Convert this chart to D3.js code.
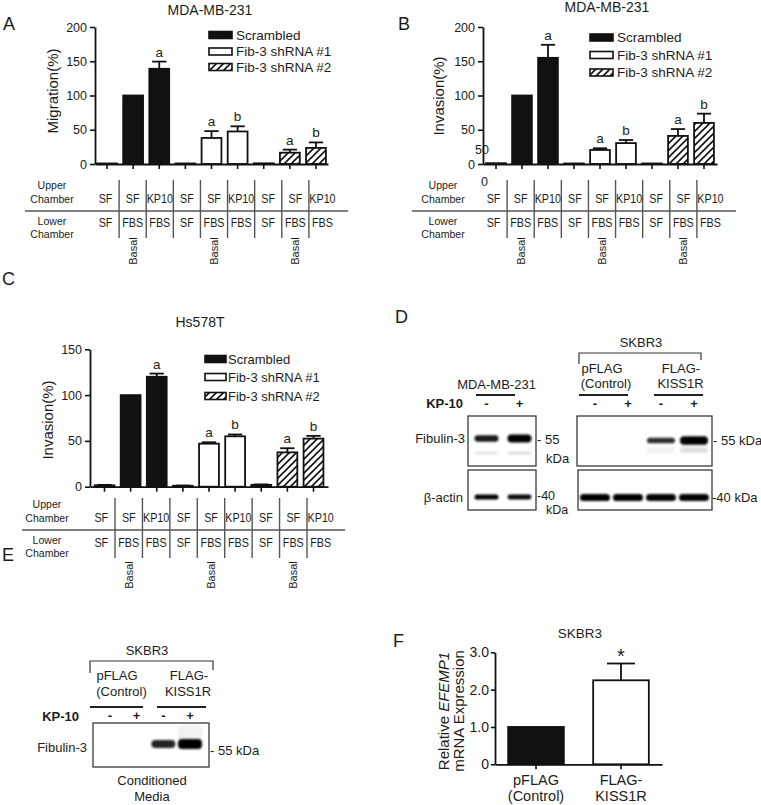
<!DOCTYPE html>
<html>
<head>
<meta charset="utf-8">
<script src="https://cdn.jsdelivr.net/npm/d3@7"></script>
<style>
  html,body{margin:0;padding:0;background:#fff;}
  svg{display:block;}
  text{font-family:"Liberation Sans",Arial,Helvetica,sans-serif;fill:#1c1c1c;}
</style>
</head>
<body>
<svg id="fig" width="761" height="805" viewBox="0 0 761 805"></svg>
<script>
// ---------------- DATA ----------------
const seriesNames = ["Scrambled", "Fib-3 shRNA #1", "Fib-3 shRNA #2"];
const seriesOfBar = [0, 0, 0, 1, 1, 1, 2, 2, 2];
const upperChamber = ["SF", "SF", "KP10", "SF", "SF", "KP10", "SF", "SF", "KP10"];
const lowerChamber = ["SF", "FBS", "FBS", "SF", "FBS", "FBS", "SF", "FBS", "FBS"];
const basalLabels = ["", "Basal", "", "", "Basal", "", "", "Basal", ""];
const yTicksMDA = [0, 50, 100, 150, 200];
const yTicksHs = [0, 50, 100, 150];

const migrationA = [0.8, 100, 139, 0.8, 38, 47.5, 1, 16.5, 23.5];
const migrationAErr = [0, 0, 10.5, 0, 10, 7.5, 0, 4.5, 8];
const sigA = ["", "", "a", "", "a", "b", "", "a", "b"];

const invasionB = [1.2, 100, 155, 0.8, 20.5, 30.5, 0.8, 41, 60];
const invasionBErr = [0, 0, 19, 0, 2.5, 4.5, 0, 10, 13.5];
const sigB = ["", "", "a", "", "a", "b", "", "a", "b"];

const invasionC = [1.5, 100, 120, 1, 47, 55, 2, 37.5, 52.5];
const invasionCErr = [0.5, 0, 3.5, 0.3, 1.5, 2, 0.5, 4.5, 3];
const sigC = ["", "", "a", "", "a", "b", "", "a", "b"];

// Western blots: relative band intensity (0 = no band)
const kp10MDA = ["-", "+"];
const kp10SKBR3 = ["-", "+", "-", "+"];
const fib3MDA = [0.75, 1.0];
const fib3MDAminor = [0.11, 0.13];
const actinMDA = [0.9, 0.85];
const fib3SKBR3 = [0, 0, 0.6, 1.0];
const fib3SKBR3minor = [0, 0, 0.05, 0.12];
const actinSKBR3 = [0.95, 0.95, 0.92, 0.92];
const fib3Media = [0, 0, 0.75, 1.0];
const fib3MediaSmear = [0, 0, 0, 0.05];

// Panel F
const fGroups = [["pFLAG", "(Control)"], ["FLAG-", "KISS1R"]];
const fValues = [1.0, 2.25];
const fErrors = [0, 0.45];
const fSig = ["", "*"];
const fTicks = [0, 1, 2, 3];

// ---------------- DRAWING ----------------
const svg = d3.select("#fig");
svg.append("rect").attr("width", 761).attr("height", 805).attr("fill", "#fff");
const defs = svg.append("defs");
const pat = defs.append("pattern").attr("id", "hatch").attr("patternUnits", "userSpaceOnUse")
  .attr("width", 7).attr("height", 7);
pat.append("rect").attr("width", 7).attr("height", 7).attr("fill", "#fff");
pat.append("path").attr("d", "M-1,8L8,-1M-2,2L2,-2M5,9L9,5").attr("stroke", "#111").attr("stroke-width", 1.6);
const blur = defs.append("filter").attr("id", "blur").attr("x", "-30%").attr("y", "-200%")
  .attr("width", "160%").attr("height", "500%");
blur.append("feGaussianBlur").attr("stdDeviation", 1.0);

const INK = "#111";
const fills = [INK, "#fff", "url(#hatch)"];

function txt(g, x, y, s, size, anchor, o = {}) {
  const t = g.append("text").attr("font-size", size).attr("text-anchor", anchor || "start").text(s);
  if (o.bold) t.attr("font-weight", "bold");
  if (o.central) t.attr("dominant-baseline", "central");
  if (o.rotate) t.attr("transform", `translate(${x},${y}) rotate(${o.rotate})`);
  else if (o.sx) t.attr("transform", `translate(${x},${y}) scale(${o.sx},1)`);
  else t.attr("x", x).attr("y", y);
  return t;
}
function ln(g, x1, y1, x2, y2, w = 1.3, c = "#444") {
  return g.append("line").attr("x1", x1).attr("y1", y1).attr("x2", x2).attr("y2", y2)
    .attr("stroke", c).attr("stroke-width", w);
}
function styleAxis(a, size) {
  a.attr("font-family", null).attr("font-size", null);
  a.select(".domain").attr("stroke", INK).attr("stroke-width", 1.8);
  a.selectAll(".tick line").attr("stroke", INK).attr("stroke-width", 1.6);
  a.selectAll(".tick text").attr("font-size", size).attr("fill", "#1c1c1c");
}

function chamberTable(g, t) {
  const n = upperChamber.length;
  const col = d3.scaleBand().domain(d3.range(n)).range(t.colRange);
  const cx = i => col(i) + col.bandwidth() / 2;
  const sx = 0.86, fs = 12.5, lfs = 11.5;
  txt(g, t.labelX, t.upLabY[0], "Upper", lfs, "middle", { central: true, sx: 0.92 });
  txt(g, t.labelX, t.upLabY[1], "Chamber", lfs, "middle", { central: true, sx: 0.92 });
  txt(g, t.labelX, t.lowLabY[0], "Lower", lfs, "middle", { central: true, sx: 0.92 });
  txt(g, t.labelX, t.lowLabY[1], "Chamber", lfs, "middle", { central: true, sx: 0.92 });
  ln(g, t.lineX[0], t.lineY, t.lineX[1], t.lineY, 1.4, "#555");
  upperChamber.forEach((s, i) => txt(g, cx(i), t.row1Y, s, fs, "middle", { central: true, sx }));
  lowerChamber.forEach((s, i) => txt(g, cx(i), t.row2Y, s, fs, "middle", { central: true, sx }));
  d3.range(1, n).forEach(i => ln(g, col(i), t.sepY[0], col(i), t.sepY[1], 1.4, "#555"));
  basalLabels.forEach((s, i) => { if (s) txt(g, cx(i), t.basalY, s, 11, "middle", { central: true, rotate: -90 }); });
}

function barPanel(c) {
  const g = svg.append("g");
  const n = c.values.length;
  const x = d3.scaleBand().domain(d3.range(n)).range(c.xRange).paddingInner(0.24).paddingOuter(c.padOuter);
  const y = d3.scaleLinear().domain(c.yDomain).range(c.yRange);
  const bw = x.bandwidth();
  g.selectAll(".bar").data(c.values).join("rect").attr("class", "bar")
    .attr("x", (d, i) => x(i)).attr("y", d => y(d)).attr("width", bw).attr("height", d => y(0) - y(d))
    .attr("fill", (d, i) => fills[seriesOfBar[i]]).attr("stroke", INK).attr("stroke-width", 1.8);
  const eg = g.append("g").attr("stroke", INK).attr("stroke-width", 1.8);
  c.values.forEach((v, i) => {
    const e = c.errors[i];
    if (!e) return;
    const cx = x(i) + bw / 2;
    eg.append("line").attr("x1", cx).attr("x2", cx).attr("y1", y(v)).attr("y2", y(v + e));
    eg.append("line").attr("x1", cx - bw * 0.36).attr("x2", cx + bw * 0.36).attr("y1", y(v + e)).attr("y2", y(v + e));
  });
  c.sig.forEach((s, i) => {
    if (s) txt(g, x(i) + bw / 2, y(c.values[i] + c.errors[i]) - 5, s, 13.5, "middle");
  });
  const ya = g.append("g").attr("transform", `translate(${c.xRange[0]},0)`)
    .call(d3.axisLeft(y).tickValues(c.yTicks).tickSize(5).tickSizeOuter(0).tickPadding(3));
  styleAxis(ya, 12.5);
  const xa = g.append("g").attr("transform", `translate(0,${y(0)})`)
    .call(d3.axisBottom(x).tickSize(5).tickSizeOuter(0).tickFormat(""));
  styleAxis(xa, 12);
  // legend
  const L = c.legend;
  seriesNames.forEach((s, k) => {
    g.append("rect").attr("x", L.boxX).attr("y", L.rows[k] - 3.5).attr("width", L.boxW).attr("height", 7)
      .attr("fill", fills[k]).attr("stroke", INK).attr("stroke-width", 1.6);
    txt(g, L.textX, L.rows[k], s, L.size, "start", { central: true });
  });
  txt(g, c.yLabelPos[0], c.yLabelPos[1], c.yLabel, 15, "middle", { central: true, rotate: -90 });
  txt(g, c.titlePos[0], c.titlePos[1], c.title, 14, "middle");
  txt(g, c.letterPos[0], c.letterPos[1], c.letter, 18, "start");
  (c.extras || []).forEach(e => txt(g, e[1], e[2], e[0], 12.5, "middle", { central: true }));
  chamberTable(g, c.table);
}

barPanel({
  values: migrationA, errors: migrationAErr, sig: sigA,
  xRange: [95, 328], padOuter: 0.08, yDomain: [0, 200], yRange: [164, 27], yTicks: yTicksMDA,
  yLabel: "Migration(%)", yLabelPos: [52, 91],
  title: "MDA-MB-231", titlePos: [210, 15], letter: "A", letterPos: [3, 30],
  legend: { boxX: 209, boxW: 23, textX: 236, rows: [35, 51.5, 67], size: 13.5 },
  table: { colRange: [92, 336], labelX: 52, upLabY: [185, 198.5], row1Y: 198.5, lineY: 211, lineX: [25, 348],
    lowLabY: [220.5, 234], row2Y: 222.5, sepY: [180, 238], basalY: 251 }
});

barPanel({
  values: invasionB, errors: invasionBErr, sig: sigB,
  xRange: [483, 717], padOuter: 0.12, yDomain: [0, 200], yRange: [164, 27], yTicks: yTicksMDA,
  yLabel: "Invasion(%)", yLabelPos: [438, 96],
  title: "MDA-MB-231", titlePos: [607, 12], letter: "B", letterPos: [398, 30],
  legend: { boxX: 590, boxW: 23, textX: 617, rows: [37.5, 55, 72.5], size: 13.5 },
  table: { colRange: [480, 724], labelX: 443, upLabY: [185, 198.5], row1Y: 198.5, lineY: 211, lineX: [412, 736],
    lowLabY: [220.5, 234], row2Y: 222.5, sepY: [180, 238], basalY: 251 },
  extras: [["50", 482, 149.5], ["0", 484.5, 182]]
});

barPanel({
  values: invasionC, errors: invasionCErr, sig: sigC,
  xRange: [90, 328], padOuter: 0.175, yDomain: [0, 150], yRange: [486.7, 349.3], yTicks: yTicksHs,
  yLabel: "Invasion(%)", yLabelPos: [47, 420],
  title: "Hs578T", titlePos: [200, 327], letter: "C", letterPos: [2, 285],
  legend: { boxX: 205, boxW: 21, textX: 228, rows: [359, 377, 396], size: 13 },
  table: { colRange: [87.6, 334.4], labelX: 47, upLabY: [504, 517.5], row1Y: 517, lineY: 530, lineX: [22, 345],
    lowLabY: [539.5, 553], row2Y: 542.5, sepY: [498, 558], basalY: 575 }
});

// ---------- Western blots ----------
function blot(g, box, lane, bw, bands) {
  g.append("rect").attr("x", box[0]).attr("y", box[1]).attr("width", box[2] - box[0]).attr("height", box[3] - box[1])
    .attr("fill", "#fff").attr("stroke", "#3a3a3a").attr("stroke-width", 1.3);
  const bg = g.append("g").attr("filter", "url(#blur)");
  bands.forEach(b => {
    b.values.forEach((v, i) => {
      if (!v) return;
      const h = b.h0 + b.h1 * v;
      bg.append("rect").attr("x", lane(i) - bw / 2).attr("y", b.cy - h / 2).attr("width", bw).attr("height", h)
        .attr("rx", Math.min(h / 2, 4)).attr("fill", "#000").attr("fill-opacity", Math.min(1, b.o0 + b.o1 * v));
    });
  });
}

// Panel D
const gD = svg.append("g");
txt(gD, 395, 323, "D", 18);
const laneMDA = d3.scalePoint().domain(d3.range(kp10MDA.length)).range([486.5, 519.5]);
const laneSK = d3.scalePoint().domain(d3.range(kp10SKBR3.length)).range([595, 694]);
txt(gD, 496.5, 389, "MDA-MB-231", 13, "middle");
ln(gD, 476, 395, 515, 395, 1.8, "#222");
txt(gD, 463, 408, "KP-10", 13, "end", { bold: true });
kp10MDA.forEach((s, i) => txt(gD, laneMDA(i), 408, s, 13, "middle", { bold: true }));
kp10SKBR3.forEach((s, i) => txt(gD, laneSK(i), 408, s, 13, "middle", { bold: true }));
txt(gD, 641, 347, "SKBR3", 13, "middle");
gD.append("path").attr("d", "M579,364V353H701V360").attr("fill", "none").attr("stroke", "#333").attr("stroke-width", 1.2);
txt(gD, 602, 373, "pFLAG", 13, "middle");
txt(gD, 606, 388, "(Control)", 13, "middle");
txt(gD, 681, 373, "FLAG-", 13, "middle");
txt(gD, 680.5, 388, "KISS1R", 13, "middle");
ln(gD, 579, 395, 628, 395, 1.8, "#222");
ln(gD, 654, 395, 703, 395, 1.8, "#222");

blot(gD, [468, 416, 536, 466], laneMDA, 24, [
  { values: fib3MDA, cy: 438.5, h0: 2, h1: 6, o0: 0.3, o1: 0.8 },
  { values: fib3MDAminor, cy: 453, h0: 3, h1: 0, o0: 0, o1: 1 }
]);
blot(gD, [468, 470, 536, 510], laneMDA, 24, [
  { values: actinMDA, cy: 497, h0: 2, h1: 3.5, o0: 0.2, o1: 0.9 }
]);
blot(gD, [577, 416, 712, 466], laneSK, 28, [
  { values: fib3SKBR3, cy: 440.5, h0: 1.5, h1: 7, o0: 0.4, o1: 0.7 },
  { values: fib3SKBR3minor, cy: 450, h0: 6, h1: 0, o0: 0, o1: 1 }
]);
blot(gD, [578, 470, 712, 510], laneSK, 30, [
  { values: actinSKBR3, cy: 497.5, h0: 2, h1: 5.5, o0: 0.2, o1: 0.85 }
]);
txt(gD, 465, 443, "Fibulin-3", 13, "end");
txt(gD, 463, 502, "β-actin", 13, "end");
txt(gD, 537, 444, "- 55", 13, "start");
txt(gD, 546, 463, "kDa", 13, "start");
txt(gD, 537, 500, "-40", 12.5, "start");
txt(gD, 546, 514, "kDa", 12.5, "start");
txt(gD, 713, 445, "- 55 kDa", 13, "start");
txt(gD, 712, 502, "-40 kDa", 13, "start");

// Panel E
const gE = svg.append("g");
txt(gE, 2, 561, "E", 18);
const laneE = d3.scalePoint().domain(d3.range(kp10SKBR3.length)).range([110, 190]);
txt(gE, 147, 655, "SKBR3", 13, "middle");
gE.append("path").attr("d", "M90,673V661H213V670").attr("fill", "none").attr("stroke", "#333").attr("stroke-width", 1.2);
txt(gE, 117, 680, "pFLAG", 13, "middle");
txt(gE, 121.5, 696, "(Control)", 13, "middle");
txt(gE, 189, 680, "FLAG-", 13, "middle");
txt(gE, 188, 696, "KISS1R", 13, "middle");
ln(gE, 90, 707, 143, 707, 1.8, "#222");
ln(gE, 157, 707, 206, 707, 1.8, "#222");
txt(gE, 79, 721, "KP-10", 13, "end", { bold: true });
kp10SKBR3.forEach((s, i) => txt(gE, laneE(i), 720, s, 13, "middle", { bold: true }));
blot(gE, [93, 723, 209, 767], laneE, 24, [
  { values: fib3MediaSmear, cy: 733, h0: 16, h1: 0, o0: 0, o1: 1 },
  { values: fib3Media, cy: 744, h0: 2, h1: 8, o0: 0.3, o1: 0.75 }
]);
txt(gE, 87, 752, "Fibulin-3", 13, "end");
txt(gE, 210, 755, "- 55 kDa", 13, "start");
txt(gE, 152, 785, "Conditioned", 13, "middle");
txt(gE, 152, 801, "Media", 13, "middle");

// Panel F
const gF = svg.append("g");
txt(gF, 393, 647, "F", 18);
const xF = d3.scaleBand().domain(d3.range(fValues.length)).range([495, 662]).paddingInner(0.345).paddingOuter(0.155);
const yF = d3.scaleLinear().domain([0, 3]).range([764.3, 652.3]);
const bwF = xF.bandwidth();
gF.selectAll(".fbar").data(fValues).join("rect").attr("class", "fbar")
  .attr("x", (d, i) => xF(i)).attr("y", d => yF(d)).attr("width", bwF).attr("height", d => yF(0) - yF(d))
  .attr("fill", (d, i) => i === 0 ? INK : "#fff").attr("stroke", INK).attr("stroke-width", 1.8);
fValues.forEach((v, i) => {
  const e = fErrors[i];
  const cx = xF(i) + bwF / 2;
  if (e) {
    ln(gF, cx, yF(v), cx, yF(v + e), 1.8, INK);
    ln(gF, cx - 14, yF(v + e), cx + 14, yF(v + e), 1.8, INK);
  }
  if (fSig[i]) txt(gF, cx, yF(v + e) - 1, fSig[i], 20, "middle");
});
const yaF = gF.append("g").attr("transform", "translate(495,0)")
  .call(d3.axisLeft(yF).tickValues(fTicks).tickSize(4).tickSizeOuter(0).tickPadding(2)
    .tickFormat(d => d === 0 ? "0" : d3.format(".1f")(d)));
styleAxis(yaF, 14);
const xaF = gF.append("g").attr("transform", `translate(0,${yF(0)})`)
  .call(d3.axisBottom(xF).tickSize(5).tickSizeOuter(0).tickFormat(""));
styleAxis(xaF, 12);
fGroups.forEach((lines, i) => {
  const cx = xF(i) + bwF / 2;
  txt(gF, cx, 785, lines[0], 14.5, "middle");
  txt(gF, cx, 801, lines[1], 14.5, "middle");
});
const yl1 = gF.append("text").attr("font-size", 15).attr("text-anchor", "middle").attr("dominant-baseline", "central")
  .attr("transform", "translate(443,711) rotate(-90)");
yl1.append("tspan").text("Relative ");
yl1.append("tspan").attr("font-style", "italic").text("EFEMP1");
txt(gF, 458, 711, "mRNA Expression", 15, "middle", { central: true, rotate: -90 });
txt(gF, 580, 638, "SKBR3", 13.5, "middle");
</script>
</body>
</html>
